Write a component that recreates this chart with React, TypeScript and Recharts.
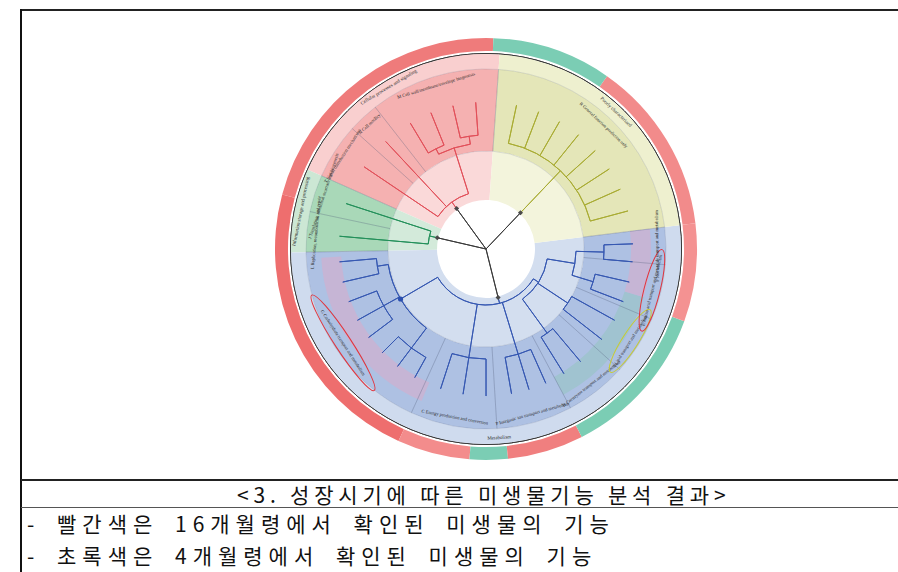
import React from 'react';
import { PieChart, Pie, Cell } from 'recharts';

type TreeNode = { a?: number; r?: number; kids?: TreeNode[] };
type Seg = { a0: number; a1: number; r0: number; r1: number; color: string };

const W = 898;
const H = 572;
const CX = 481;
const CY = 244;
const RAD = Math.PI / 180;
const LEAF_R = 147;

// top-level COG groups, counter-clockwise from 86°
const groupNames = [
  'Cellular processes and signaling',
  'Information storage and processing',
  'Metabolism',
  'Poorly characterized',
];
const groupSpans = [70, 25, 186, 79];

// COG categories, same order
const categoryNames = [
  'M Cell wall/membrane/envelope biogenesis',
  'N Cell motility',
  'T Signal transduction mechanisms',
  'J Translation, ribosomal structure and biogenesis',
  'L Replication, recombination and repair',
  'G Carbohydrate transport and metabolism',
  'C Energy production and conversion',
  'P Inorganic ion transport and metabolism',
  'H Coenzyme transport and metabolism',
  'I Lipid transport and metabolism',
  'E Amino acid transport and metabolism',
  'F Nucleotide transport and metabolism',
  'R General function prediction only',
];
const categorySpans = [42, 10, 18, 12, 13, 64.5, 28, 24.5, 20, 19, 18, 12, 79];

// outer ring: which age the function was found in (from 88°, ccw)
const ringSpans = [77, 80.5, 20, 10.5, 21, 43, 27, 48, 33];
const ringAge = ['16', '16', '16', '4', '16', '4', '16', '16', '4'];

// highlighted COG bands inside Metabolism (from 181°, ccw)
const bandSpans = [2, 64, 51, 45, 24];
const bandKind = ['none', 'purple', 'none', 'teal', 'purple'];

const leaf = (a: number): TreeNode => ({ a });

const pinkTree: TreeNode = {
  a: 126, r: 58, kids: [
    { r: 106, kids: [{ r: 114, kids: [leaf(94), leaf(103)] }, { r: 112, kids: [leaf(112), leaf(121)] }] },
    leaf(133), leaf(146),
  ],
};
const greenTree: TreeNode = { a: 167, r: 58, kids: [leaf(162), leaf(175)] };
const yellowTree: TreeNode = {
  a: 46.4, r: 108, kids: [leaf(15), leaf(24), leaf(33), leaf(42), leaf(51), leaf(60), leaf(69), leaf(78)],
};
const blueTree: TreeNode = {
  a: 284, r: 56, kids: [
    { r: 99, kids: [
      { r: 110, kids: [leaf(185), leaf(193)] },
      { r: 117, kids: [leaf(201), leaf(209), leaf(217)] },
      { r: 124, kids: [leaf(225), leaf(233), leaf(241)] },
    ] },
    { r: 110, kids: [leaf(252), leaf(261), leaf(270)] },
    { r: 110, kids: [leaf(280), leaf(287), leaf(294)] },
    { r: 62, kids: [
      { r: 104, kids: [leaf(302), leaf(310)] },
      { r: 98, kids: [leaf(322), leaf(331)] },
      { r: 90, kids: [{ r: 112, kids: [leaf(339), leaf(347)] }, { r: 118, kids: [leaf(355), leaf(362)] }] },
    ] },
  ],
};

const groupInner = ['#FAD9D9', '#D3EADA', '#D3DEEF', '#F3F4DC'];
const groupMid = ['#F5B1B1', '#A9D8B8', '#AEC1E3', '#E4E6B8'];
const groupOuter = ['#F9CFCF', '#CCE7D4', '#CFDBEE', '#EEF0CF'];
const treeColors = ['#E2505A', '#23905A', '#3658B2', '#A9AC33'];
const ageColor: Record<string, string[]> = {
  '16': ['#EF7B7B', '#EE6E6E', '#F38C8C', '#F07F7F', '#F49292', '#F28B8B'],
  '4': ['#7BCDB4'],
};
const ringShade = [0, 1, 2, 0, 3, 0, 4, 5, 0];
const bandColor: Record<string, string> = { none: 'rgba(0,0,0,0)', purple: '#C6B5D5', teal: '#A0C3D0' };
const highlight: Record<string, { stroke: string; rx: number }> = {
  G: { stroke: '#E2343C', rx: 57 },
  I: { stroke: '#C9CC2E', rx: 37 },
  E: { stroke: '#E2343C', rx: 42 },
};

const ONE = [{ v: 1 }];

const angleOf = (n: TreeNode): number => {
  if (n.a !== undefined) return n.a;
  const k = (n.kids || []).map(angleOf);
  return k.reduce((s, x) => s + x, 0) / k.length;
};

const collect = (n: TreeNode, color: string, out: Seg[]) => {
  if (!n.kids) return;
  const ang = n.kids.map(angleOf);
  out.push({ a0: Math.min(...ang), a1: Math.max(...ang), r0: n.r!, r1: n.r!, color });
  n.kids.forEach((k, i) => {
    out.push({ a0: ang[i], a1: ang[i] + 0.02, r0: n.r!, r1: k.kids ? k.r! : LEAF_R, color });
    collect(k, color, out);
  });
};

const segs: Seg[] = [];
const stems: number[] = [];
[pinkTree, greenTree, blueTree, yellowTree].forEach((t, i) => {
  const a = angleOf(t);
  stems.push(a);
  segs.push({ a0: a, a1: a + 0.02, r0: 0, r1: 50, color: '#3a3a3a' });
  segs.push({ a0: a, a1: a + 0.02, r0: 50, r1: t.r!, color: treeColors[i] });
  collect(t, treeColors[i], segs);
});

const rotFor = (mid: number) => {
  const m = ((mid % 360) + 360) % 360;
  return m >= 10 && m < 190 ? 90 - m : 270 - m;
};

const polar = (p: any, r: number) => ({
  x: p.cx + r * Math.cos(-p.midAngle * RAD),
  y: p.cy + r * Math.sin(-p.midAngle * RAD),
});

const renderText = (size: number) => (p: any) => {
  const r = (p.innerRadius + p.outerRadius) / 2;
  const { x, y } = polar(p, r);
  const name: string = p.payload.name;
  const hl = highlight[name.charAt(0)];
  return (
    <g key={`lbl-${name}`} transform={`translate(${x},${y}) rotate(${rotFor(p.midAngle)})`}>
      {size < 5 && hl ? <ellipse cx={0} cy={0} rx={hl.rx} ry={8} fill="none" stroke={hl.stroke} strokeWidth={1} /> : null}
      <text x={0} y={0} textAnchor="middle" dominantBaseline="central" fontSize={size}
        fontFamily="'Liberation Serif', serif" fill="#2a2a2a">{name}</text>
    </g>
  );
};

const renderMarker = (color: string, size: number, round: boolean) => (p: any) => {
  const { x, y } = polar(p, p.outerRadius);
  return round ? (
    <circle key={`mk-${p.midAngle}`} cx={x} cy={y} r={size} fill={color} />
  ) : (
    <rect key={`mk-${p.midAngle}`} x={x - size} y={y - size} width={size * 2} height={size * 2} fill={color}
      transform={`rotate(45 ${x} ${y})`} />
  );
};

const groupData = groupNames.map((name, i) => ({ name, span: groupSpans[i] }));
const categoryData = categoryNames.map((name, i) => ({ name, span: categorySpans[i] }));
const ringData = ringSpans.map((span, i) => ({ age: ringAge[i], span }));
const bandData = bandSpans.map((span, i) => ({ kind: bandKind[i], span }));

const koText: React.CSSProperties = {
  position: 'absolute',
  whiteSpace: 'nowrap',
  fontFamily: "'Noto Sans CJK KR', sans-serif",
  fontSize: 21,
  lineHeight: '22px',
  color: '#111',
};

export default function App() {
  return (
    <div style={{ position: 'absolute', left: 0, top: 0, width: W, height: H, background: '#fff', overflow: 'hidden' }}>
      <PieChart width={W} height={H} style={{ position: 'absolute', left: 0, top: 0 }}>
        {/* outer age ring */}
        <Pie data={ringData} dataKey="span" cx={CX} cy={CY} startAngle={88} endAngle={448}
          innerRadius={198} outerRadius={211} stroke="none" isAnimationActive={false}>
          {ringData.map((d, i) => (
            <Cell key={`ring-${i}`} fill={d.age === '4' ? ageColor['4'][0] : ageColor['16'][ringShade[i]]} />
          ))}
        </Pie>
        <Pie data={ONE} dataKey="v" cx={CX} cy={CY} startAngle={0} endAngle={360}
          innerRadius={195.5} outerRadius={195.5} fill="none" stroke="#3a3a3a" strokeWidth={1} isAnimationActive={false} />

        {/* group backgrounds */}
        <Pie data={groupData} dataKey="span" cx={CX} cy={CY} startAngle={86} endAngle={446}
          innerRadius={180} outerRadius={195} stroke="none" isAnimationActive={false}>
          {groupData.map((d, i) => <Cell key={`go-${i}`} fill={groupOuter[i]} />)}
        </Pie>
        <Pie data={groupData} dataKey="span" cx={CX} cy={CY} startAngle={86} endAngle={446}
          innerRadius={98} outerRadius={180} stroke="none" isAnimationActive={false}>
          {groupData.map((d, i) => <Cell key={`gm-${i}`} fill={groupMid[i]} />)}
        </Pie>
        <Pie data={groupData} dataKey="span" cx={CX} cy={CY} startAngle={86} endAngle={446}
          innerRadius={49} outerRadius={98} stroke="none" isAnimationActive={false}>
          {groupData.map((d, i) => <Cell key={`gi-${i}`} fill={groupInner[i]} />)}
        </Pie>
        <Pie data={bandData} dataKey="span" cx={CX} cy={CY} startAngle={181} endAngle={367}
          innerRadius={145} outerRadius={165} stroke="none" isAnimationActive={false}>
          {bandData.map((d, i) => <Cell key={`bd-${i}`} fill={bandColor[d.kind]} />)}
        </Pie>
        {/* faint category dividers */}
        <Pie data={categoryData} dataKey="span" cx={CX} cy={CY} startAngle={86} endAngle={446}
          innerRadius={98} outerRadius={180} fill="none" stroke="rgba(80,90,120,0.22)" strokeWidth={0.8}
          isAnimationActive={false} />

        {/* tree */}
        {segs.map((s, i) => (
          <Pie key={`seg-${i}`} data={ONE} dataKey="v" cx={CX} cy={CY} startAngle={s.a0} endAngle={s.a1}
            innerRadius={s.r0} outerRadius={s.r1} fill="none" stroke={s.color} strokeWidth={1}
            isAnimationActive={false} />
        ))}
        {stems.map((a, i) => (
          <Pie key={`mk-${i}`} data={ONE} dataKey="v" cx={CX} cy={CY} startAngle={a} endAngle={a + 0.02}
            innerRadius={50} outerRadius={50} fill="none" stroke="none" isAnimationActive={false}
            label={renderMarker('#4a4a4a', 1.8, false)} labelLine={false} />
        ))}
        <Pie data={ONE} dataKey="v" cx={CX} cy={CY} startAngle={angleOf(blueTree.kids![0])}
          endAngle={angleOf(blueTree.kids![0]) + 0.02} innerRadius={99} outerRadius={99} fill="none" stroke="none"
          isAnimationActive={false} label={renderMarker('#2B4FAE', 2.6, true)} labelLine={false} />

        {/* labels */}
        <Pie data={categoryData} dataKey="span" cx={CX} cy={CY} startAngle={86} endAngle={446}
          innerRadius={164} outerRadius={178} fill="none" stroke="none" isAnimationActive={false}
          label={renderText(4.6)} labelLine={false} />
        <Pie data={groupData} dataKey="span" cx={CX} cy={CY} startAngle={86} endAngle={446}
          innerRadius={183} outerRadius={195} fill="none" stroke="none" isAnimationActive={false}
          label={renderText(5)} labelLine={false} />
      </PieChart>

      {/* table frame */}
      <div style={{ position: 'absolute', left: 21, top: 9, width: W - 21, height: 2, background: '#222' }} />
      <div style={{ position: 'absolute', left: 20, top: 9, width: 2, height: H - 9, background: '#111' }} />
      <div style={{ position: 'absolute', left: 21, top: 479, width: W - 21, height: 2, background: '#222' }} />
      <div style={{ position: 'absolute', left: 21, top: 507, width: W - 21, height: 1, background: '#555' }} />

      <div style={{ ...koText, left: 237, top: 483, letterSpacing: 4.8 }}>{'<3. 성장시기에 따른 미생물기능 분석 결과>'}</div>
      <div style={{ ...koText, left: 27, top: 512, letterSpacing: 6, wordSpacing: 6 }}>{'- 빨간색은 16개월령에서 확인된 미생물의 기능'}</div>
      <div style={{ ...koText, left: 27, top: 544, letterSpacing: 6, wordSpacing: 6 }}>{'- 초록색은 4개월령에서 확인된 미생물의 기능'}</div>
    </div>
  );
}
